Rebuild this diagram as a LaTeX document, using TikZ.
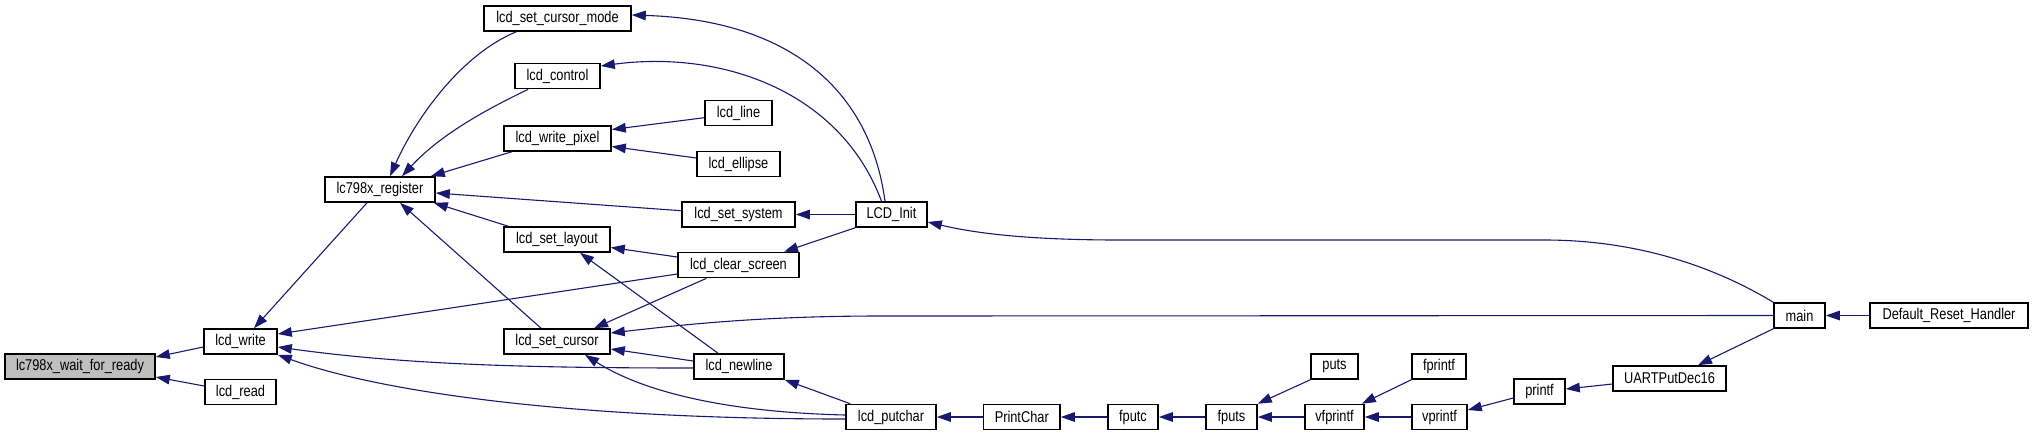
\documentclass[tikz,border=0pt]{standalone}
\usepackage{fontspec}
\setmainfont[FakeStretch=0.82]{Liberation Sans}
\usetikzlibrary{arrows.meta,calc}
\definecolor{edgec}{RGB}{25,25,112}
\definecolor{rootfill}{RGB}{191,191,191}
\begin{document}
\begin{tikzpicture}[x=0.5pt,y=-0.5pt,
 fn/.style={draw=black,line width=0.8pt,fill=white,inner sep=0pt,minimum height=12.5pt,font=\fontsize{7.8}{9}\selectfont},
 edge/.style={draw=edgec,line width=0.55pt,{Triangle[length=7pt,width=4.8pt]}-}]
\useasboundingbox (0,0) rectangle (2033,436);
% nodes
\node[fn,minimum width=75pt,fill=rootfill] (wait) at (80,366.5) {lc798x\_wait\_for\_ready};
\node[fn,minimum width=36.5pt] (write) at (240.5,341.5) {lcd\_write};
\node[fn,minimum width=35.5pt] (read) at (240.5,392) {lcd\_read};
\node[fn,minimum width=55pt] (register) at (380,189.5) {lc798x\_register};
\node[fn,minimum width=73.5pt] (scm) at (557.5,18.5) {lcd\_set\_cursor\_mode};
\node[fn,minimum width=42.5pt] (control) at (557.5,76) {lcd\_control};
\node[fn,minimum width=53.5pt] (wpix) at (557.5,138.5) {lcd\_write\_pixel};
\node[fn,minimum width=53pt] (slay) at (557,239.5) {lcd\_set\_layout};
\node[fn,minimum width=53pt] (scur) at (557,341.5) {lcd\_set\_cursor};
\node[fn,minimum width=33.5pt] (line) at (738.5,113) {lcd\_line};
\node[fn,minimum width=41.5pt] (ellipse) at (738.5,164) {lcd\_ellipse};
\node[fn,minimum width=56.5pt] (ssys) at (738.5,214.5) {lcd\_set\_system};
\node[fn,minimum width=60.5pt] (clr) at (738.5,265) {lcd\_clear\_screen};
\node[fn,minimum width=45pt] (newline) at (739,366.5) {lcd\_newline};
\node[fn,minimum width=35.5pt] (init) at (891.5,214.5) {LCD\_Init};
\node[fn,minimum width=45pt] (putchar) at (891,417) {lcd\_putchar};
\node[fn,minimum width=38.25pt] (printchar) at (1021.75,417) {PrintChar};
\node[fn,minimum width=25pt] (fputc) at (1133,417) {fputc};
\node[fn,minimum width=25.5pt] (fputs) at (1231.5,417) {fputs};
\node[fn,minimum width=23.5pt] (puts) at (1334.5,366.5) {puts};
\node[fn,minimum width=29.5pt] (vfprintf) at (1334.5,417) {vfprintf};
\node[fn,minimum width=27pt] (fprintf) at (1439,366.5) {fprintf};
\node[fn,minimum width=27.5pt] (vprintf) at (1439.5,417) {vprintf};
\node[fn,minimum width=25.5pt] (printf) at (1539.5,391.5) {printf};
\node[fn,minimum width=56.5pt] (uart) at (1669.5,378.5) {UARTPutDec16};
\node[fn,minimum width=25.5pt] (main) at (1799.5,315.5) {main};
\node[fn,minimum width=79pt] (drh) at (1949,315.5) {Default\_Reset\_Handler};
% edges
\draw[edge] ($(wait.east)+(0,-9.5)$) -- ($(write.west)+(0,5.5)$);
\draw[edge] ($(wait.east)+(0,10.5)$) -- ($(read.west)+(0,-6)$);
\draw[edge] ($(write.north)+(13.5,0)$) -- ($(register.south)+(-13,0)$);
\draw[edge] ($(write.east)+(0,-7.5)$) -- ($(clr.west)+(0,9)$);
\draw[edge] ($(write.east)+(0,5.5)$) .. controls (400,364) and (520,368) .. ($(newline.west)+(0,1.5)$);
\draw[edge] (write.south east) .. controls (380,392) and (570,419) .. ($(putchar.west)+(0,2)$);
\draw[edge] ($(register.north)+(10,0)$) .. controls (415,120) and (460,55) .. ($(scm.south west)+(33,0)$);
\draw[edge] ($(register.north)+(22,0)$) .. controls (440,135) and (485,110) .. ($(control.south west)+(14,0)$);
\draw[edge] ($(register.north east)+(-5,0)$) -- ($(wpix.south west)+(8.5,0)$);
\draw[edge] ($(register.east)+(0,3.5)$) -- ($(ssys.west)+(0,-3.8)$);
\draw[edge] ($(register.south east)+(-2,0)$) -- ($(slay.north west)+(5,0)$);
\draw[edge] ($(register.south)+(20,0)$) -- ($(scur.north)+(-16,0)$);
\draw[edge] ($(wpix.east)+(0,-9)$) -- ($(line.west)+(0,4.7)$);
\draw[edge] ($(wpix.east)+(0,8)$) -- ($(ellipse.west)+(0,-6)$);
\draw[edge] ($(slay.east)+(0,8)$) -- ($(clr.west)+(0,-8)$);
\draw[edge] ($(slay.south)+(23,0)$) -- ($(newline.north)+(-21,0)$);
\draw[edge] ($(scur.north)+(37,0)$) -- ($(clr.south)+(-32,0)$);
\draw[edge] ($(scur.east)+(0,-8.5)$) .. controls (680,325) and (760,316) .. (880,316) -- (main.west);
\draw[edge] ($(scur.east)+(0,7.5)$) -- ($(newline.west)+(0,-5.5)$);
\draw[edge] ($(scur.south)+(28,0)$) .. controls (640,390) and (720,412) .. ($(putchar.west)+(0,-2)$);
\draw[edge] ($(scm.east)+(0,-3.5)$) .. controls (790,20) and (870,90) .. ($(init.north)+(-6.5,0)$);
\draw[edge] ($(control.east)+(0,-10)$) .. controls (720,50) and (840,90) .. ($(init.north)+(-10,0)$);
\draw[edge] (ssys.east) -- (init.west);
\draw[edge] ($(clr.north)+(45.5,0)$) -- (init.south west);
\draw[edge] ($(init.east)+(0,7.5)$) .. controls (970,232) and (1020,240) .. (1120,240) -- (1545,240) .. controls (1620,240) and (1700,258) .. (main.north west);
\draw[edge] (newline.south east) -- ($(putchar.north west)+(5,0)$);
\draw[edge] (putchar.east) -- (printchar.west);
\draw[edge] (printchar.east) -- (fputc.west);
\draw[edge] (fputc.east) -- (fputs.west);
\draw[edge] (fputs.north east) -- (puts.south west);
\draw[edge] (fputs.east) -- (vfprintf.west);
\draw[edge] ($(vfprintf.north east)+(-3,0)$) -- (fprintf.south west);
\draw[edge] (vfprintf.east) -- (vprintf.west);
\draw[edge] ($(vprintf.east)+(0,-7)$) -- ($(printf.west)+(0,6.5)$);
\draw[edge] ($(printf.east)+(0,-2.5)$) -- ($(uart.west)+(0,5.5)$);
\draw[edge] ($(uart.north)+(28.5,0)$) -- (main.south west);
\draw[edge] (main.east) -- (drh.west);
\end{tikzpicture}
\end{document}
